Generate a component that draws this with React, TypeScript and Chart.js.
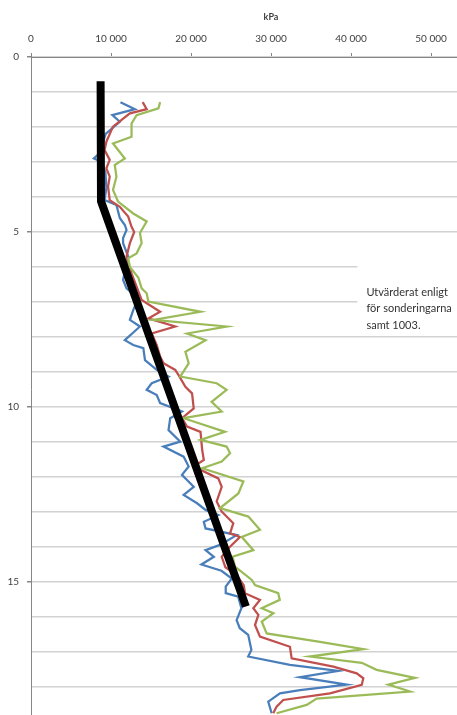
import React, { useEffect, useRef } from "react";
import { Chart, registerables } from "chart.js";

Chart.register(...registerables);

// ---- data (depth in m, value in kPa) ----
const xTickValues = [0, 10000, 20000, 30000, 40000, 50000];
const yLabelledDepths = [0, 5, 10, 15];

const blueDepth = [1.29, 1.49, 1.66, 1.85, 2.2, 2.45, 2.7, 2.9, 2.99, 3.3, 3.74, 4.09, 4.23, 4.6, 4.8, 4.94, 5.17, 5.32, 5.7, 6.37, 6.61, 6.89, 7.23, 7.51, 7.7, 8.09, 8.23, 8.32, 8.66, 8.94, 9.13, 9.32, 9.51, 9.66, 9.89, 10.13, 10.32, 10.66, 10.99, 11.13, 11.42, 11.7, 11.94, 12.28, 12.51, 12.75, 12.94, 13.09, 13.28, 13.47, 13.66, 13.94, 14.09, 14.28, 14.5, 14.68, 14.9, 15.13, 15.32, 15.42, 15.75, 16.09, 16.32, 16.51, 16.94, 17.13, 17.37, 17.54, 17.72, 17.93, 18.09, 18.18, 18.42, 18.75];
const blueKpa = [11180, 12990, 10170, 11100, 9330, 9000, 8800, 7860, 8790, 9300, 9420, 9200, 10680, 11100, 11730, 11940, 11510, 11510, 12150, 11510, 11940, 13410, 12780, 12360, 13620, 11730, 12780, 14040, 14250, 15720, 17190, 15090, 14460, 15720, 16140, 18870, 17400, 17190, 18660, 16560, 19080, 19710, 18870, 20340, 19080, 20760, 21820, 23410, 21600, 21820, 25710, 23630, 21820, 22860, 21300, 23800, 25100, 24340, 24340, 25900, 26300, 25700, 26100, 27150, 27550, 27150, 32370, 38410, 33620, 39460, 33620, 31120, 29660, 30080];

const redDepth = [1.29, 1.49, 1.61, 1.99, 2.42, 2.66, 2.94, 3.18, 3.42, 3.7, 4.09, 4.28, 4.56, 4.85, 5.0, 5.32, 5.7, 6.18, 6.56, 6.94, 7.28, 7.47, 7.7, 7.9, 8.23, 8.56, 8.75, 8.94, 9.09, 9.42, 9.61, 10.04, 10.32, 10.56, 10.71, 11.23, 11.51, 11.7, 12.04, 12.28, 12.7, 12.99, 13.32, 13.61, 13.71, 13.99, 14.28, 14.58, 14.8, 15.1, 15.32, 15.51, 15.75, 15.94, 16.23, 16.56, 16.85, 17.18, 17.42, 17.61, 17.75, 17.94, 18.18, 18.37, 18.56, 18.75];
const redKpa = [13960, 14460, 12360, 10250, 9420, 9200, 9840, 9420, 9840, 9630, 9840, 11100, 12150, 12570, 12900, 12360, 11940, 12570, 13200, 13830, 16140, 14670, 18030, 15090, 15720, 16140, 16560, 18030, 18450, 19300, 20130, 20340, 18870, 19510, 21190, 21400, 21600, 20340, 23410, 23840, 23210, 23840, 25290, 24880, 26130, 24880, 23840, 24300, 25710, 26600, 26750, 28620, 27790, 28420, 28000, 28620, 32370, 32580, 37790, 40710, 41540, 41340, 37370, 31530, 30700, 30280];

const greenDepth = [1.29, 1.47, 1.66, 1.9, 2.28, 2.47, 2.9, 3.09, 3.42, 3.8, 4.13, 4.47, 4.7, 5.03, 5.32, 5.61, 5.75, 6.0, 6.3, 6.61, 6.75, 6.99, 7.28, 7.51, 7.7, 7.9, 8.09, 8.42, 8.75, 9.13, 9.32, 9.51, 9.85, 10.13, 10.32, 10.71, 10.94, 11.13, 11.32, 11.56, 11.75, 12.13, 12.47, 12.89, 13.13, 13.51, 13.71, 14.09, 14.28, 14.56, 14.94, 15.09, 15.32, 15.51, 15.75, 15.89, 16.13, 16.47, 16.71, 16.92, 17.13, 17.31, 17.51, 17.74, 17.93, 18.13, 18.33, 18.51, 18.75];
const greenKpa = [16140, 15930, 13200, 12570, 12570, 10250, 11730, 10470, 10680, 10250, 10880, 12780, 14460, 13620, 13830, 13200, 12150, 12360, 13410, 13830, 14460, 14670, 21190, 15300, 24450, 19510, 21820, 19300, 19710, 18660, 23210, 24450, 22580, 23840, 19080, 24250, 21190, 24450, 24880, 23840, 21400, 26550, 25920, 23630, 27170, 28620, 26340, 27790, 25200, 25500, 27600, 28000, 30900, 31100, 28840, 30300, 28840, 29460, 36120, 41540, 34870, 41340, 43200, 48000, 44670, 47380, 35710, 34460, 30700];

const trendDepth = [0.69, 4.12, 15.7];
const trendKpa = [8700, 8750, 26860];

const noteLines = ["Utvärderat enligt", "för sonderingarna", "samt 1003."];

const toPoints = (depths: number[], vals: number[]) =>
  depths.map((d, i) => ({ x: vals[i], y: d }));

const fmt = (v: number) =>
  String(v).replace(/\B(?=(\d{3})+(?!\d))/g, " ");

const FONT = "Lato, 'Open Sans', 'Liberation Sans', sans-serif";
const AXIS_GRAY = "#868686";

const notePlugin = {
  id: "noteBox",
  afterDraw(chart: any) {
    const { ctx, scales } = chart;
    const x = scales.x;
    const y = scales.y;
    const left = x.getPixelForValue(40800);
    const top = y.getPixelForValue(5.65);
    const bottom = y.getPixelForValue(7.85);
    ctx.save();
    ctx.fillStyle = "#ffffff";
    ctx.fillRect(left, top, chart.width - left, bottom - top);
    ctx.fillStyle = "#333333";
    ctx.font = `11px ${FONT}`;
    ctx.textBaseline = "middle";
    ctx.textAlign = "left";
    const first = y.getPixelForValue(6.72);
    noteLines.forEach((line, i) => {
      ctx.fillText(line, left + 9, first + i * 16.5);
    });
    ctx.restore();
  },
};

export default function App() {
  const ref = useRef<HTMLCanvasElement | null>(null);

  useEffect(() => {
    if (!ref.current) return;
    const chart = new Chart(ref.current, {
      type: "scatter",
      data: {
        datasets: [
          {
            label: "Trend",
            data: toPoints(trendDepth, trendKpa),
            showLine: true,
            borderColor: "#000000",
            borderWidth: 8,
            borderCapStyle: "butt",
            borderJoinStyle: "miter",
            pointRadius: 0,
            order: 0,
          },
          {
            label: "Serie 3",
            data: toPoints(greenDepth, greenKpa),
            showLine: true,
            borderColor: "#9BBB59",
            borderWidth: 2.25,
            pointRadius: 0,
            order: 1,
          },
          {
            label: "Serie 2",
            data: toPoints(redDepth, redKpa),
            showLine: true,
            borderColor: "#C0504D",
            borderWidth: 2.25,
            pointRadius: 0,
            order: 2,
          },
          {
            label: "Serie 1",
            data: toPoints(blueDepth, blueKpa),
            showLine: true,
            borderColor: "#4A7EBB",
            borderWidth: 2.25,
            pointRadius: 0,
            order: 3,
          },
        ],
      } as any,
      options: {
        animation: false,
        responsive: false,
        devicePixelRatio: 1,
        layout: { padding: { left: 0, top: 0, right: 9, bottom: 0 } },
        plugins: {
          legend: { display: false },
          tooltip: { enabled: false },
        },
        scales: {
          x: {
            type: "linear",
            position: "top",
            min: 0,
            max: 60000,
            afterBuildTicks: (s: any) => {
              s.ticks = xTickValues.map((v) => ({ value: v }));
            },
            ticks: {
              callback: (v: any) => fmt(Number(v)),
              font: { family: FONT, size: 10 },
              color: "#404040",
              padding: 8,
              maxRotation: 0,
            },
            grid: {
              drawOnChartArea: false,
              drawTicks: true,
              tickLength: 4,
              tickColor: AXIS_GRAY,
              color: AXIS_GRAY,
            },
            border: { display: true, color: AXIS_GRAY, width: 1 },
            title: {
              display: true,
              text: "kPa",
              font: { family: FONT, size: 9, weight: "bold" },
              color: "#404040",
              padding: { top: 12, bottom: 0 },
            },
            afterFit: (s: any) => {
              s.height = 57;
            },
          },
          y: {
            type: "linear",
            reverse: true,
            min: 0,
            max: 19,
            ticks: {
              stepSize: 1,
              autoSkip: false,
              callback: (v: any) =>
                yLabelledDepths.includes(Number(v)) ? String(v) : "",
              font: { family: FONT, size: 10 },
              color: "#404040",
              padding: 8,
            },
            grid: {
              color: "#d2d2d2",
              lineWidth: 1.5,
              drawTicks: true,
              tickLength: 4,
              tickColor: (c: any) =>
                c.tick && yLabelledDepths.includes(c.tick.value)
                  ? AXIS_GRAY
                  : "rgba(0,0,0,0)",
            },
            border: { display: true, color: AXIS_GRAY, width: 1 },
            afterFit: (s: any) => {
              s.width = 31;
              s.paddingBottom = 0;
              s.paddingTop = 0;
            },
          },
        },
      } as any,
      plugins: [notePlugin],
    });
    return () => chart.destroy();
  }, []);

  return (
    <div
      style={{
        position: "fixed",
        left: 0,
        top: 0,
        width: 457,
        height: 715,
        overflow: "hidden",
        background: "#ffffff",
      }}
    >
      <canvas
        ref={ref}
        width={520}
        height={722}
        style={{ display: "block", width: 520, height: 722 }}
      />
    </div>
  );
}
